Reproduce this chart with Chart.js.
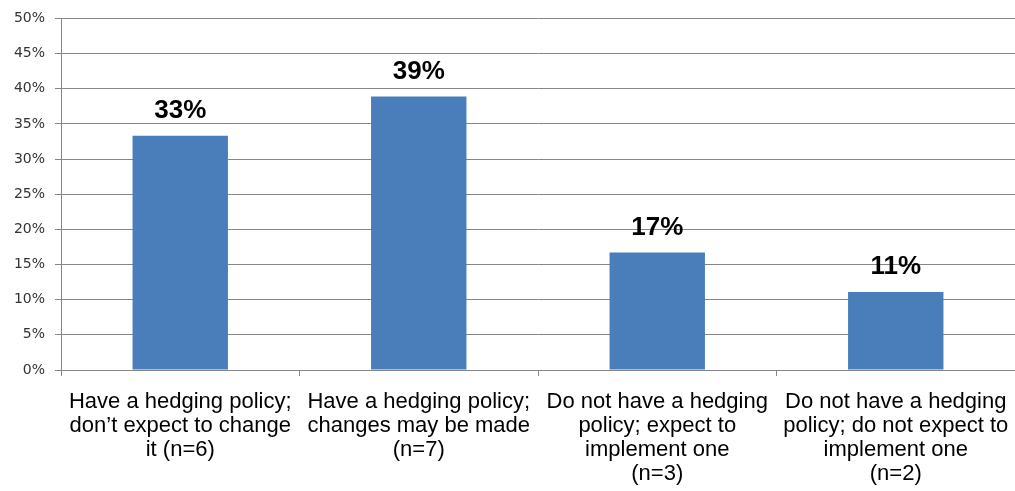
<!DOCTYPE html>
<html lang="en">
<head>
<meta charset="UTF-8">
<title>Hedging policy</title>
<script src="https://cdn.jsdelivr.net/npm/chart.js"></script>
<style>
    html, body { margin: 0; padding: 0; background: #fff; }
    #wrap { width: 1015px; height: 491px; }
</style>
</head>
<body>
<div id="wrap"><canvas id="hedgeChart"></canvas></div>
<script>
    const categories = [
        ['Have a hedging policy;', 'don\u2019t expect to change', 'it (n=6)'],
        ['Have a hedging policy;', 'changes may be made', '(n=7)'],
        ['Do not have a hedging', 'policy; expect to', 'implement one', '(n=3)'],
        ['Do not have a hedging', 'policy; do not expect to', 'implement one', '(n=2)']
    ];
    const shares = [33.3, 38.9, 16.7, 11.1];
    const yTicks = [0, 5, 10, 15, 20, 25, 30, 35, 40, 45, 50];

    // percentage above each bar
    const valueLabels = {
        id: 'valueLabels',
        afterDatasetsDraw(chart) {
            const ctx = chart.ctx;
            const meta = chart.getDatasetMeta(0);
            ctx.save();
            ctx.font = 'bold 26px "Liberation Sans", Arial, sans-serif';
            ctx.fillStyle = '#000';
            ctx.textAlign = 'center';
            ctx.textBaseline = 'bottom';
            meta.data.forEach((bar, i) => {
                ctx.fillText(Math.round(shares[i]) + '%', bar.x, bar.y - 12);
            });
            ctx.restore();
        }
    };

    new Chart(document.getElementById('hedgeChart'), {
        type: 'bar',
        data: {
            labels: categories,
            datasets: [{
                data: shares,
                backgroundColor: '#4a7ebb',
                categoryPercentage: 0.4,
                barPercentage: 1
            }]
        },
        options: {
            responsive: true,
            maintainAspectRatio: false,
            animation: false,
            layout: { padding: { top: 18, right: 0, left: 0, bottom: 0 } },
            plugins: {
                legend: { display: false },
                tooltip: { enabled: false }
            },
            scales: {
                x: {
                    grid: {
                        offset: true,
                        drawOnChartArea: false,
                        drawTicks: true,
                        tickLength: 6,
                        color: '#868686'
                    },
                    border: { color: '#868686', width: 1 },
                    ticks: {
                        color: '#000',
                        padding: 14,
                        maxRotation: 0,
                        autoSkip: false,
                        font: { family: '"Liberation Sans", Arial, sans-serif', size: 22, lineHeight: 1.09 }
                    },
                    afterFit(scale) {
                        scale.height = 121;
                        scale.paddingLeft = 0;
                        scale.paddingRight = 0;
                    }
                },
                y: {
                    min: 0,
                    max: 50,
                    afterBuildTicks(scale) { scale.ticks = yTicks.map(v => ({ value: v })); },
                    grid: { color: '#868686', tickLength: 6 },
                    border: { color: '#868686', width: 1 },
                    ticks: {
                        color: '#333',
                        padding: 10,
                        font: { family: '"DejaVu Sans", Verdana, sans-serif', size: 14 },
                        callback: v => v + '%'
                    },
                    afterFit(scale) { scale.width = 61; }
                }
            }
        },
        plugins: [valueLabels]
    });
</script>
</body>
</html>
